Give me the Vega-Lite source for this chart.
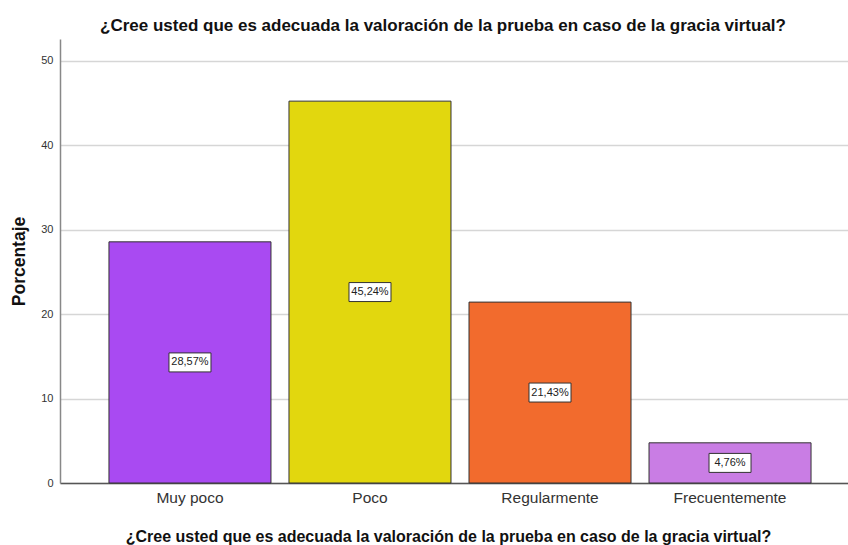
{
  "$schema": "https://vega.github.io/schema/vega-lite/v6.json",
  "autosize": {"type": "none"},
  "width": 800,
  "height": 444,
  "padding": {"left": 60, "top": 39, "right": 0, "bottom": 62},
  "background": "white",
  "config": {
    "view": {"stroke": null},
    "font": "Liberation Sans"
  },
  "title": {
    "text": "¿Cree usted que es adecuada la valoración de la prueba en caso de la gracia virtual?",
    "font": "Liberation Sans",
    "fontSize": 17,
    "fontWeight": "bold",
    "color": "#111111",
    "anchor": "middle",
    "dx": -17,
    "offset": 4
  },
  "data": {
    "values": [
      {"cat": "Muy poco", "pct": 28.57, "label": "28,57%"},
      {"cat": "Poco", "pct": 45.24, "label": "45,24%"},
      {"cat": "Regularmente", "pct": 21.43, "label": "21,43%"},
      {"cat": "Frecuentemente", "pct": 4.76, "label": "4,76%"}
    ]
  },
  "transform": [{"calculate": "datum.pct / 2", "as": "mid"}],
  "encoding": {
    "x": {
      "field": "cat",
      "type": "nominal",
      "sort": null,
      "scale": {"paddingInner": 0.1, "paddingOuter": 0.272},
      "axis": {
        "title": "¿Cree usted que es adecuada la valoración de la prueba en caso de la gracia virtual?",
        "titleFont": "Liberation Sans",
        "titleFontSize": 16,
        "titleFontWeight": "bold",
        "titleColor": "#111111",
        "titleX": 388,
        "titlePadding": 23,
        "labelAngle": 0,
        "labelFont": "Liberation Sans",
        "labelFontSize": 15.5,
        "labelColor": "#333333",
        "labelPadding": 7,
        "ticks": false,
        "domainColor": "#555555",
        "domainWidth": 1.5,
        "grid": false
      }
    }
  },
  "layer": [
    {
      "mark": {"type": "bar", "stroke": "#333333", "strokeWidth": 1},
      "encoding": {
        "y": {
          "field": "pct",
          "type": "quantitative",
          "scale": {"domain": [0, 52.6], "nice": false},
          "axis": {
            "title": "Porcentaje",
            "titleFont": "Liberation Sans",
            "titleFontSize": 17.5,
            "titleFontWeight": "bold",
            "titleColor": "#111111",
            "titlePadding": 12,
            "values": [0, 10, 20, 30, 40, 50],
            "labelFont": "Liberation Sans",
            "labelFontSize": 11,
            "labelColor": "#333333",
            "labelPadding": 7,
            "ticks": false,
            "domainColor": "#888888",
            "domainWidth": 1.5,
            "grid": true,
            "gridColor": "#d6d6d6",
            "gridWidth": 1.5
          }
        },
        "color": {
          "field": "cat",
          "type": "nominal",
          "sort": null,
          "scale": {
            "domain": ["Muy poco", "Poco", "Regularmente", "Frecuentemente"],
            "range": ["#a94af2", "#e2d70e", "#f26b2d", "#c97de4"]
          },
          "legend": null
        }
      }
    },
    {
      "mark": {
        "type": "point",
        "shape": "M-1,-0.452L1,-0.452L1,0.452L-1,0.452Z",
        "size": 1764,
        "filled": true,
        "fill": "white",
        "stroke": "#333333",
        "strokeWidth": 1,
        "opacity": 1
      },
      "encoding": {
        "y": {"field": "mid", "type": "quantitative"}
      }
    },
    {
      "mark": {
        "type": "text",
        "font": "Liberation Sans",
        "fontSize": 11,
        "color": "#222222",
        "baseline": "middle",
        "align": "center"
      },
      "encoding": {
        "y": {"field": "mid", "type": "quantitative"},
        "text": {"field": "label"}
      }
    }
  ]
}
